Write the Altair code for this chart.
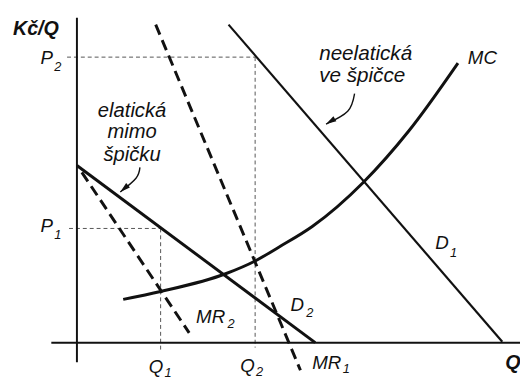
import altair as alt
import pandas as pd

# ---- data (economic units: Q along x, Kč/Q along y) ----
D1_Q = [15.4, 43.2]
D1_P = [32.3, 0.1]
D2_Q = [0.0, 24.2]
D2_P = [18.0, 0.0]
MR1_Q = [8.0, 22.7]
MR1_P = [32.3, -2.8]
MR2_Q = [0.5, 11.4]
MR2_P = [17.3, 1.0]
MC_Q = [4.7, 8.5, 15.1, 18.1, 20.5, 23.9, 29.1, 33.7, 38.7]
MC_P = [4.4, 5.2, 7.0, 8.3, 9.7, 11.8, 16.3, 21.5, 28.4]
Q1, Q2 = 8.5, 18.1
P1, P2 = 11.6, 29.0

ARROW1_Q = [28.2, 27.5, 25.3]
ARROW1_P = [25.3, 23.5, 22.2]
ARROW2_Q = [6.4, 6.0, 4.4]
ARROW2_P = [17.8, 16.7, 15.3]

MAIN_TEXT = ["P", "P", "Q", "Q", "MR", "MR", "D", "D", "MC"]
MAIN_Q = [-3.7, -3.7, 7.3, 16.6, 23.9, 12.1, 21.7, 36.4, 39.7]
MAIN_P = [28.3, 11.2, -3.1, -3.0, -2.7, 2.0, 3.2, 9.5, 28.3]
SUB_TEXT = ["2", "1", "1", "2", "1", "2", "2", "1"]
SUB_Q = [-2.3, -2.3, 8.9, 18.2, 27.0, 15.3, 23.3, 37.9]
SUB_P = [27.6, 10.5, -3.5, -3.4, -3.1, 1.5, 2.6, 8.7]

X_DOM = [-7.0, 45.0]
Y_DOM = [-3.5, 33.7]

FONT = "Liberation Sans"
xs = alt.Scale(domain=X_DOM, nice=False, zero=False)
ys = alt.Scale(domain=Y_DOM, nice=False, zero=False)


def X(f="q"):
    return alt.X(f + ":Q", scale=xs, axis=None)


def Y(f="p"):
    return alt.Y(f + ":Q", scale=ys, axis=None)


def line_df(qs, ps):
    return pd.DataFrame({"q": qs, "p": ps, "o": list(range(len(qs)))})


def solid(qs, ps, w=2.6, interp="linear"):
    return alt.Chart(line_df(qs, ps)).mark_line(
        color="#111", strokeWidth=w, interpolate=interp
    ).encode(x=X(), y=Y(), order="o:Q")


def dashed(qs, ps):
    return alt.Chart(line_df(qs, ps)).mark_line(
        color="#111", strokeWidth=3, strokeDash=[11, 6]
    ).encode(x=X(), y=Y(), order="o:Q")


# axes
axes = alt.Chart(pd.DataFrame({
    "q": [0.0, -2.6], "q2": [0.0, 45.0], "p": [-2.0, 0.0], "p2": [33.0, 0.0]
})).mark_rule(color="#111", strokeWidth=2).encode(
    x=X(), x2="q2:Q", y=Y(), y2="p2:Q")

# guide (dotted) lines
guides = alt.Chart(pd.DataFrame({
    "q": [-1.0, Q2, -0.8, Q1],
    "q2": [Q2, Q2, Q1, Q1],
    "p": [P2, P2, P1, P1],
    "p2": [P2, -0.5, P1, -0.7],
})).mark_rule(color="#555", strokeWidth=1, strokeDash=[4, 3]).encode(
    x=X(), x2="q2:Q", y=Y(), y2="p2:Q")

d1 = solid(D1_Q, D1_P, 2.2)
d2 = solid(D2_Q, D2_P, 3)
mc = solid(MC_Q, MC_P, 3, "monotone")
mr1 = dashed(MR1_Q, MR1_P)
mr2 = dashed(MR2_Q, MR2_P)

arr1 = solid(ARROW1_Q, ARROW1_P, 1.4, "natural")
arr2 = solid(ARROW2_Q, ARROW2_P, 1.4, "natural")
heads = alt.Chart(pd.DataFrame({
    "q": [ARROW1_Q[-1], ARROW2_Q[-1]],
    "p": [ARROW1_P[-1], ARROW2_P[-1]],
    "a": [239, 229],
})).mark_point(
    shape="M0,0 L0.55,2 L-0.55,2 Z", filled=True, color="#111", size=110, opacity=1
).encode(x=X(), y=Y(), angle=alt.Angle("a:Q", scale=None))

main_lbl = alt.Chart(pd.DataFrame({"t": MAIN_TEXT, "q": MAIN_Q, "p": MAIN_P})).mark_text(
    font=FONT, fontSize=19, fontStyle="italic", align="left", baseline="alphabetic", color="#111"
).encode(x=X(), y=Y(), text="t:N")

sub_lbl = alt.Chart(pd.DataFrame({"t": SUB_TEXT, "q": SUB_Q, "p": SUB_P})).mark_text(
    font=FONT, fontSize=13, fontStyle="italic", align="left", baseline="alphabetic", color="#111"
).encode(x=X(), y=Y(), text="t:N")

bold_lbl = alt.Chart(pd.DataFrame({
    "t": ["Kč/Q", "Q"], "q": [-6.5, 43.5], "p": [31.2, -2.7]
})).mark_text(
    font=FONT, fontSize=20, fontStyle="italic", fontWeight="bold", align="left",
    baseline="alphabetic", color="#111"
).encode(x=X(), y=Y(), text="t:N")

note1 = alt.Chart(pd.DataFrame({
    "t": ["neelatická", "ve špičce"], "q": [24.6, 24.6], "p": [28.7, 26.5]
})).mark_text(
    font=FONT, fontSize=21, fontStyle="italic", align="left", baseline="alphabetic", color="#111"
).encode(x=X(), y=Y(), text="t:N")

note2 = alt.Chart(pd.DataFrame({
    "t": ["elatická", "mimo", "špičku"], "q": [5.6, 5.6, 5.6], "p": [22.9, 20.8, 18.5]
})).mark_text(
    font=FONT, fontSize=20.5, fontStyle="italic", align="center", baseline="alphabetic", color="#111"
).encode(x=X(), y=Y(), text="t:N")

chart = alt.layer(
    guides, axes, d1, d2, mc, mr1, mr2, arr1, arr2, heads,
    main_lbl, sub_lbl, bold_lbl, note1, note2
).properties(
    width=520, height=372, padding=0,
    autosize=alt.AutoSizeParams(type="none"),
    background="white",
).configure_view(stroke=None)

chart.save("out.html", embed_options={"renderer": "svg", "actions": False})
